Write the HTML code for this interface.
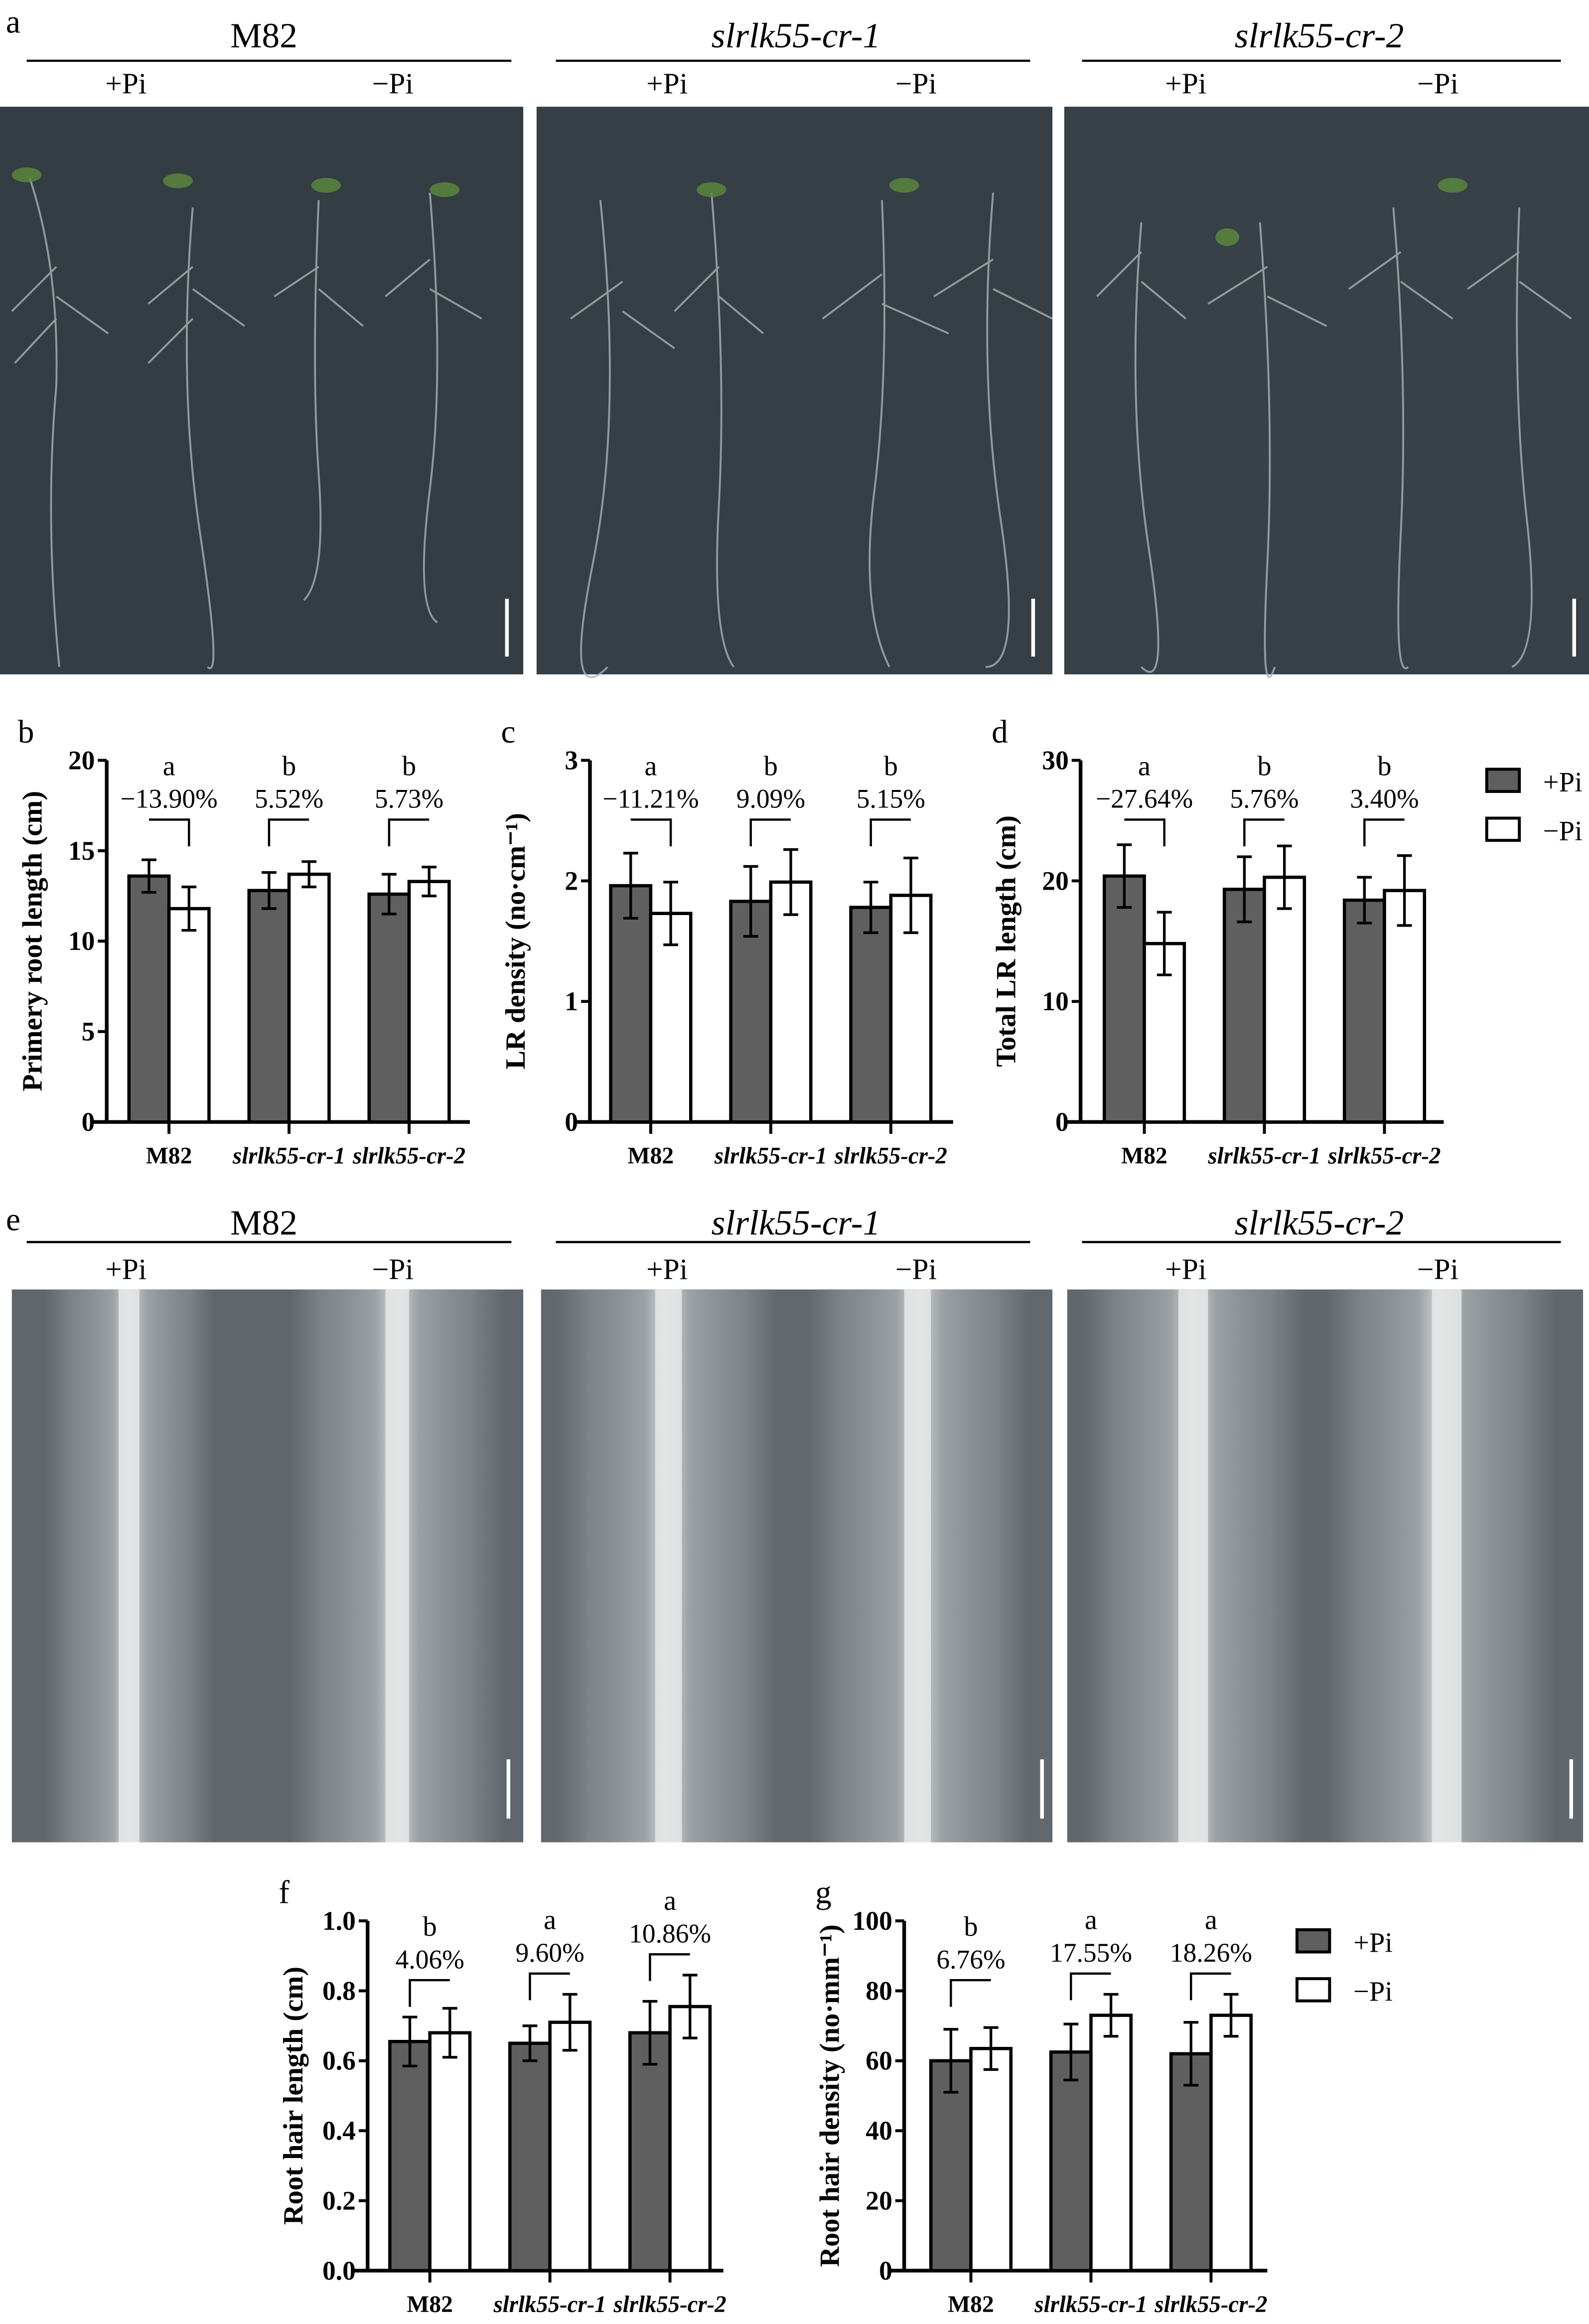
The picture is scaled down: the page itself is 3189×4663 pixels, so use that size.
<!DOCTYPE html>
<html><head><meta charset="utf-8"><style>
html,body{margin:0;padding:0;background:#fff}
svg{display:block}
text{font-family:"Liberation Serif",serif}
</style></head><body>
<svg id="fig" width="3189" height="4663" viewBox="0 0 1072 1568" preserveAspectRatio="none" xmlns="http://www.w3.org/2000/svg">
<g id="static">
<text x="4" y="22" font-size="22">a</text>
<text x="178" y="32" font-size="24" text-anchor="middle">M82</text>
<text x="537" y="32" font-size="24" font-style="italic" text-anchor="middle">slrlk55-cr-1</text>
<text x="890" y="32" font-size="24" font-style="italic" text-anchor="middle">slrlk55-cr-2</text>
<line x1="18" y1="41" x2="345" y2="41" stroke="#000" stroke-width="1.5"/>
<line x1="375" y1="41" x2="695" y2="41" stroke="#000" stroke-width="1.5"/>
<line x1="730" y1="41" x2="1053" y2="41" stroke="#000" stroke-width="1.5"/>
<g font-size="20" text-anchor="middle">
<text x="85" y="63">+Pi</text><text x="265" y="63">−Pi</text>
<text x="450" y="63">+Pi</text><text x="618" y="63">−Pi</text>
<text x="800" y="63">+Pi</text><text x="970" y="63">−Pi</text>
</g>
<rect x="0" y="72" width="353" height="383" fill="#333d43"/>
<rect x="362" y="72" width="348" height="383" fill="#353f45"/>
<rect x="718" y="72" width="354" height="383" fill="#374147"/>
<g stroke="#aab2b4" stroke-width="1.3" fill="none" opacity="0.8">
<path d="M20 120 Q40 180 38 260 Q30 350 40 450"/><path d="M130 140 Q120 260 135 360 T140 450"/>
<path d="M215 135 Q210 250 215 320 T205 405"/><path d="M290 130 Q300 250 290 330 T295 420"/>
<path d="M405 135 Q420 280 400 380 T410 450"/><path d="M480 130 Q490 250 485 340 T495 450"/>
<path d="M595 135 Q600 250 590 330 T600 450"/><path d="M670 130 Q660 250 675 350 T665 450"/>
<path d="M770 150 Q760 270 775 370 T770 450"/><path d="M850 150 Q860 280 855 380 T860 450"/>
<path d="M940 140 Q950 260 945 360 T950 450"/><path d="M1025 140 Q1020 260 1030 350 T1020 450"/>
<path d="M38 180 l-30 30 M38 200 l35 25 M38 215 l-28 30 M130 180 l-30 25 M130 195 l35 25 M130 215 l-30 30 M215 180 l-30 20 M215 195 l30 25 M290 175 l-30 25 M290 195 l35 20 M420 190 l-35 25 M420 210 l35 25 M485 180 l-30 30 M485 200 l30 25 M595 185 l-40 30 M595 205 l45 20 M670 175 l-40 25 M670 195 l40 20 M770 170 l-30 30 M770 190 l30 25 M855 180 l-40 25 M855 200 l40 20 M945 170 l-35 25 M945 190 l35 25 M1025 170 l-35 25 M1025 190 l35 25"/>
</g>
<g fill="#5c8a3c" opacity="0.8"><ellipse cx="18" cy="118" rx="10" ry="5"/><ellipse cx="120" cy="122" rx="10" ry="5"/><ellipse cx="220" cy="125" rx="10" ry="5"/><ellipse cx="300" cy="128" rx="10" ry="5"/><ellipse cx="480" cy="128" rx="10" ry="5"/><ellipse cx="610" cy="125" rx="10" ry="5"/><ellipse cx="828" cy="160" rx="8" ry="6"/><ellipse cx="980" cy="125" rx="10" ry="5"/></g>
<g stroke="#fff" stroke-width="2.5"><line x1="342" y1="404" x2="342" y2="443"/><line x1="697" y1="404" x2="697" y2="443"/><line x1="1062" y1="404" x2="1062" y2="443"/></g>

<text x="4" y="830" font-size="22">e</text>
<text x="178" y="833" font-size="24" text-anchor="middle">M82</text>
<text x="537" y="833" font-size="24" font-style="italic" text-anchor="middle">slrlk55-cr-1</text>
<text x="890" y="833" font-size="24" font-style="italic" text-anchor="middle">slrlk55-cr-2</text>
<line x1="18" y1="838" x2="345" y2="838" stroke="#000" stroke-width="1.5"/>
<line x1="375" y1="838" x2="695" y2="838" stroke="#000" stroke-width="1.5"/>
<line x1="730" y1="838" x2="1053" y2="838" stroke="#000" stroke-width="1.5"/>
<g font-size="20" text-anchor="middle">
<text x="85" y="863">+Pi</text><text x="265" y="863">−Pi</text>
<text x="450" y="863">+Pi</text><text x="618" y="863">−Pi</text>
<text x="800" y="863">+Pi</text><text x="970" y="863">−Pi</text>
</g>
<defs>
<linearGradient id="root" x1="0" x2="1"><stop offset="0" stop-color="#8a9196" stop-opacity="0"/><stop offset="0.15" stop-color="#8f969a" stop-opacity="0.6"/><stop offset="0.4" stop-color="#aab0b3" stop-opacity="0.8"/><stop offset="0.5" stop-color="#d8dbdc"/><stop offset="0.6" stop-color="#aab0b3" stop-opacity="0.8"/><stop offset="0.85" stop-color="#8f969a" stop-opacity="0.6"/><stop offset="1" stop-color="#8a9196" stop-opacity="0"/></linearGradient>
</defs>
<rect x="8" y="870" width="345" height="373" fill="#5f676d"/>
<rect x="365" y="870" width="345" height="373" fill="#61696f"/>
<rect x="720" y="870" width="348" height="373" fill="#60686e"/>
<g fill="url(#root)">
<rect x="30" y="870" width="115" height="373"/><rect x="195" y="870" width="145" height="373"/>
<rect x="375" y="870" width="150" height="373"/><rect x="545" y="870" width="150" height="373"/>
<rect x="730" y="870" width="150" height="373"/><rect x="895" y="870" width="155" height="373"/>
</g>
<g fill="#e4e6e6" opacity="0.9"><rect x="80" y="870" width="14" height="373"/><rect x="260" y="870" width="16" height="373"/><rect x="442" y="870" width="18" height="373"/><rect x="610" y="870" width="18" height="373"/><rect x="795" y="870" width="20" height="373"/><rect x="966" y="870" width="20" height="373"/></g>
<g stroke="#fff" stroke-width="2.5"><line x1="343" y1="1187" x2="343" y2="1227"/><line x1="703" y1="1187" x2="703" y2="1227"/><line x1="1060" y1="1187" x2="1060" y2="1227"/></g>
</g>
<g id="charts"></g>
</svg>
<script>
// ---- chart data ----
const groups = ["M82","slrlk55-cr-1","slrlk55-cr-2"];
const bPlus = [13.6, 12.8, 12.6], bMinus = [11.8, 13.7, 13.3];
const bSdPlus = [0.9, 1.0, 1.1], bSdMinus = [1.2, 0.7, 0.8];
const bTicks = [0,5,10,15,20];
const bLetters = ["a","b","b"], bPct = ["−13.90%","5.52%","5.73%"];
const cPlus = [1.96, 1.83, 1.78], cMinus = [1.73, 1.99, 1.88];
const cSdPlus = [0.27, 0.29, 0.21], cSdMinus = [0.26, 0.27, 0.31];
const cTicks = [0,1,2,3];
const cLetters = ["a","b","b"], cPct = ["−11.21%","9.09%","5.15%"];
const dPlus = [20.4, 19.3, 18.4], dMinus = [14.8, 20.3, 19.2];
const dSdPlus = [2.6, 2.7, 1.9], dSdMinus = [2.6, 2.6, 2.9];
const dTicks = [0,10,20,30];
const dLetters = ["a","b","b"], dPct = ["−27.64%","5.76%","3.40%"];
const fPlus = [0.655, 0.65, 0.68], fMinus = [0.68, 0.71, 0.755];
const fSdPlus = [0.07, 0.05, 0.09], fSdMinus = [0.07, 0.08, 0.09];
const fTicks = [0,0.2,0.4,0.6,0.8,1.0];
const fLetters = ["b","a","a"], fPct = ["4.06%","9.60%","10.86%"];
const gPlus = [60, 62.5, 62], gMinus = [63.5, 73, 73];
const gSdPlus = [9, 8, 9], gSdMinus = [6, 6, 6];
const gTicks = [0,20,40,60,80,100];
const gLetters = ["b","a","a"], gPct = ["6.76%","17.55%","18.26%"];

const NS="http://www.w3.org/2000/svg";
const root=document.getElementById('charts');
function mk(tag,attrs,parent,txt){const e=document.createElementNS(NS,tag);for(const k in attrs)e.setAttribute(k,attrs[k]);if(txt!==undefined)e.textContent=txt;(parent||root).appendChild(e);return e;}

function chart(o){
  const g=mk('g',{});
  
  
  const maxV=o.ticks[o.ticks.length-1];
  const y=v=>o.y0-(v/maxV)*(o.y0-o.y1);
  const bw=27;
  const cx=i=>o.x0+o.first+i*81;
  mk('text',{x:o.x0-60,y:o.y1-12,'font-size':22},g,o.label);
  const ya=mk('line',{x1:o.x0,y1:o.y1,x2:o.x0,y2:o.y0,stroke:'#000','stroke-width':2.5},g);
  
  
  const xa=mk('line',{x1:o.x0-10,y1:o.y0,x2:o.x0+o.len,y2:o.y0,stroke:'#000','stroke-width':2.5},g);
  
  
  o.ticks.forEach(t=>{
    mk('line',{x1:o.x0-6,y1:y(t),x2:o.x0,y2:y(t),stroke:'#000','stroke-width':2},g);
    const tl=mk('text',{x:o.x0-8,y:y(t)+6,'font-size':18,'font-weight':'bold','text-anchor':'end'},g,o.fmt?o.fmt(t):t);
    
    
  });
  const yt=mk('text',{x:0,y:0,'font-size':19,'font-weight':'bold','text-anchor':'middle',transform:`translate(${o.x0-44},${(o.y0+o.y1)/2}) rotate(-90)`},g,o.ytitle);
  
  
  groups.forEach((gn,i)=>{
    const c=cx(i);
    mk('line',{x1:c,y1:o.y0,x2:c,y2:o.y0+8,stroke:'#000','stroke-width':2},g);
    const xa2={x:c,y:o.y0+28,'font-size':16,'font-weight':'bold','font-style':i?'italic':'normal','text-anchor':'middle'};
    if(i){xa2.textLength=76;xa2.lengthAdjust='spacingAndGlyphs';}
    const xl=mk('text',xa2,g,gn);
    
    
    [[o.plus[i],o.sdp[i],'#5f5f5f',c-bw],[o.minus[i],o.sdm[i],'#fff',c]].forEach(([v,sd,col,bx],k)=>{
      const r=mk('rect',{x:bx,y:y(v),width:bw,height:o.y0-y(v),fill:col,stroke:'#000','stroke-width':2.2},g);
      
      
      const m=bx+bw/2;
      mk('line',{x1:m,y1:y(v+sd),x2:m,y2:y(v-sd),stroke:'#000','stroke-width':1.8},g);
      mk('line',{x1:m-5,y1:y(v+sd),x2:m+5,y2:y(v+sd),stroke:'#000','stroke-width':1.8},g);
      mk('line',{x1:m-5,y1:y(v-sd),x2:m+5,y2:y(v-sd),stroke:'#000','stroke-width':1.8},g);
    });
    const top=Math.max(o.plus[i]+o.sdp[i],o.minus[i]+o.sdm[i]);
    const by=Math.min(y(top)-14,o.y1+40);
    const lp=o.plus[i]<o.minus[i];
    mk('path',{d:`M${c-bw/2} ${by+(lp?18:0)} V${by} H${c+bw/2} V${by+(lp?0:18)}`,fill:'none',stroke:'#000','stroke-width':1.5},g);
    mk('text',{x:c,y:by-8,'font-size':18,'text-anchor':'middle'},g,o.pct[i]);
    mk('text',{x:c,y:by-30,'font-size':19,'text-anchor':'middle'},g,o.letters[i]);
  });
}
chart({name:'chart-b-primary-root',label:'b',x0:72,y0:757,y1:513,first:42,len:245,ticks:bTicks,plus:bPlus,minus:bMinus,sdp:bSdPlus,sdm:bSdMinus,letters:bLetters,pct:bPct,ytitle:'Primery root length (cm)'});
chart({name:'chart-c-lr-density',label:'c',x0:398,y0:757,y1:513,first:41,len:245,ticks:cTicks,plus:cPlus,minus:cMinus,sdp:cSdPlus,sdm:cSdMinus,letters:cLetters,pct:cPct,ytitle:'LR density (no·cm⁻¹)'});
chart({name:'chart-d-total-lr',label:'d',x0:729,y0:757,y1:513,first:43,len:245,ticks:dTicks,plus:dPlus,minus:dMinus,sdp:dSdPlus,sdm:dSdMinus,letters:dLetters,pct:dPct,ytitle:'Total LR length (cm)'});
chart({name:'chart-f-hair-length',label:'f',x0:248,y0:1532,y1:1296,first:42,len:240,ticks:fTicks,plus:fPlus,minus:fMinus,sdp:fSdPlus,sdm:fSdMinus,letters:fLetters,pct:fPct,ytitle:'Root hair length (cm)',fmt:t=>t.toFixed(1)});
chart({name:'chart-g-hair-density',label:'g',x0:610,y0:1532,y1:1296,first:45,len:245,ticks:gTicks,plus:gPlus,minus:gMinus,sdp:gSdPlus,sdm:gSdMinus,letters:gLetters,pct:gPct,ytitle:'Root hair density (no·mm⁻¹)'});

function legend(x,y){
  const g=mk('g',{});
  
  
  mk('rect',{x:x,y:y-8,width:22,height:15,fill:'#5f5f5f',stroke:'#000','stroke-width':2},g);
  mk('text',{x:x+38,y:y+7,'font-size':19},g,'+Pi');
  mk('rect',{x:x,y:y+25,width:22,height:15,fill:'#fff',stroke:'#000','stroke-width':2},g);
  mk('text',{x:x+38,y:y+40,'font-size':19},g,'−Pi');
}
legend(1003,527);
legend(875,1310);
</script>
</body></html>
